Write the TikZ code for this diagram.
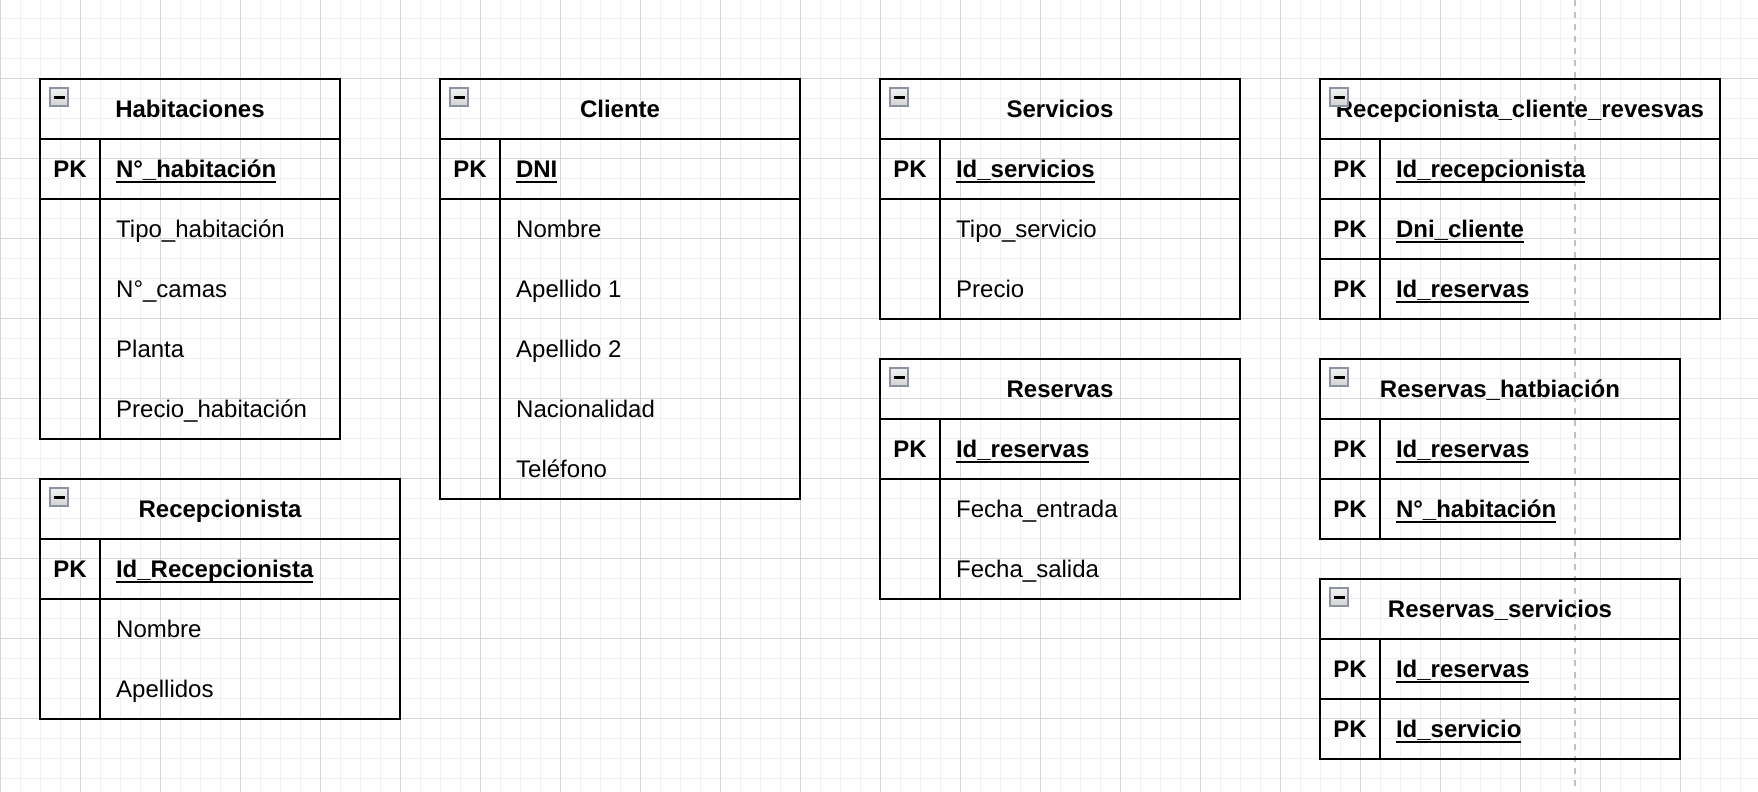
\documentclass[tikz,border=0pt]{standalone}
\usepackage{fontspec}
\setmainfont{Liberation Sans}
\usetikzlibrary{positioning}
\definecolor{gridminor}{RGB}{240,240,240}
\definecolor{gridmajor}{RGB}{214,214,214}
\definecolor{pageline}{RGB}{192,192,192}
\definecolor{iconborder}{RGB}{140,146,160}
\newcommand{\tabfont}{\fontsize{24}{29}\selectfont}
\newcommand{\keyline}[1]{\setbox0=\hbox{#1}\rlap{\rule[-5.7pt]{\wd0}{2pt}}\box0}

\begin{document}
\begin{tikzpicture}[
    x=1pt, y=-1pt,
    cell/.style={draw, line width=2pt, inner sep=0pt, outer sep=0pt, anchor=north west, text height=21.7pt, text depth=5.1pt},
    tabhead/.style={cell, minimum height=60pt, font=\tabfont\bfseries},
    pkcell/.style={cell, minimum width=60pt, minimum height=60pt, font=\tabfont\bfseries},
    keycell/.style={cell, minimum height=60pt, inner xsep=16pt, align=left, font=\tabfont\bfseries},
    sidecol/.style={cell, minimum width=60pt},
    bodybox/.style={cell},
    field/.style={anchor=west, inner sep=0pt, font=\tabfont, text height=21.7pt, text depth=5.1pt},
    collapse/.style={draw=iconborder, line width=1.5pt, top color=gray!10, bottom color=gray!35, minimum size=18pt, inner sep=0pt},
    gridline/.style={gridminor, line width=1pt},
    majorline/.style={gridmajor, line width=1pt},
    pagebreak/.style={pageline, line width=2pt, dash pattern=on 6pt off 6pt}
]
\useasboundingbox (0,0) rectangle (1758,792);
\fill[white] (0,0) rectangle (1758,792);

% grid
\foreach \gx in {0,20,...,1740} \draw[gridline] (\gx,0) -- (\gx,792);
\foreach \gy in {18.5,38.5,...,778.5} \draw[gridline] (0,\gy) -- (1758,\gy);
\foreach \gx in {0,80,...,1680} \draw[majorline] (\gx,0) -- (\gx,792);
\foreach \gy in {78.5,158.5,...,718.5} \draw[majorline] (0,\gy) -- (1758,\gy);
\draw[pagebreak] (1575,0) -- (1575,792);

% Habitaciones
\node[tabhead, minimum width=300pt] (hab) at (40,79) {Habitaciones};
\node[collapse] (habicon) at ([xshift=19pt, yshift=-18pt]hab.north west) {\rule{11pt}{3pt}};
\node[pkcell] (habpk) at (hab.south west) {PK};
\node[keycell, text width=208pt] (habkey) at (habpk.north east) {\keyline{N°\_habitación}};
\node[sidecol, minimum height=240pt] (habside) at (habpk.south west) {};
\node[bodybox, minimum width=240pt, minimum height=240pt] (habbody) at (habside.north east) {};
\foreach \lbl [count=\i] in {Tipo\_habitación, N°\_camas, Planta, Precio\_habitación}
    \node[field] (habf\i) at ([xshift=16pt, yshift={30pt-60pt*\i}]habbody.north west) {\lbl};

% Recepcionista
\node[tabhead, minimum width=360pt] (rec) at (40,479) {Recepcionista};
\node[collapse] (recicon) at ([xshift=19pt, yshift=-18pt]rec.north west) {\rule{11pt}{3pt}};
\node[pkcell] (recpk) at (rec.south west) {PK};
\node[keycell, text width=268pt] (reckey) at (recpk.north east) {\keyline{Id\_Recepcionista}};
\node[sidecol, minimum height=120pt] (recside) at (recpk.south west) {};
\node[bodybox, minimum width=300pt, minimum height=120pt] (recbody) at (recside.north east) {};
\foreach \lbl [count=\i] in {Nombre, Apellidos}
    \node[field] (recf\i) at ([xshift=16pt, yshift={30pt-60pt*\i}]recbody.north west) {\lbl};

% Cliente
\node[tabhead, minimum width=360pt] (cli) at (440,79) {Cliente};
\node[collapse] (cliicon) at ([xshift=19pt, yshift=-18pt]cli.north west) {\rule{11pt}{3pt}};
\node[pkcell] (clipk) at (cli.south west) {PK};
\node[keycell, text width=268pt] (clikey) at (clipk.north east) {\keyline{DNI}};
\node[sidecol, minimum height=300pt] (cliside) at (clipk.south west) {};
\node[bodybox, minimum width=300pt, minimum height=300pt] (clibody) at (cliside.north east) {};
\foreach \lbl [count=\i] in {Nombre, Apellido 1, Apellido 2, Nacionalidad, Teléfono}
    \node[field] (clif\i) at ([xshift=16pt, yshift={30pt-60pt*\i}]clibody.north west) {\lbl};

% Servicios
\node[tabhead, minimum width=360pt] (ser) at (880,79) {Servicios};
\node[collapse] (sericon) at ([xshift=19pt, yshift=-18pt]ser.north west) {\rule{11pt}{3pt}};
\node[pkcell] (serpk) at (ser.south west) {PK};
\node[keycell, text width=268pt] (serkey) at (serpk.north east) {\keyline{Id\_servicios}};
\node[sidecol, minimum height=120pt] (serside) at (serpk.south west) {};
\node[bodybox, minimum width=300pt, minimum height=120pt] (serbody) at (serside.north east) {};
\foreach \lbl [count=\i] in {Tipo\_servicio, Precio}
    \node[field] (serf\i) at ([xshift=16pt, yshift={30pt-60pt*\i}]serbody.north west) {\lbl};

% Reservas
\node[tabhead, minimum width=360pt] (res) at (880,359) {Reservas};
\node[collapse] (resicon) at ([xshift=19pt, yshift=-18pt]res.north west) {\rule{11pt}{3pt}};
\node[pkcell] (respk) at (res.south west) {PK};
\node[keycell, text width=268pt] (reskey) at (respk.north east) {\keyline{Id\_reservas}};
\node[sidecol, minimum height=120pt] (resside) at (respk.south west) {};
\node[bodybox, minimum width=300pt, minimum height=120pt] (resbody) at (resside.north east) {};
\foreach \lbl [count=\i] in {Fecha\_entrada, Fecha\_salida}
    \node[field] (resf\i) at ([xshift=16pt, yshift={30pt-60pt*\i}]resbody.north west) {\lbl};

% Recepcionista_cliente_revesvas
\node[tabhead, minimum width=400pt] (rcr) at (1320,79) {Recepcionista\_cliente\_revesvas};
\node[collapse] (rcricon) at ([xshift=19pt, yshift=-18pt]rcr.north west) {\rule{11pt}{3pt}};
\node[pkcell] (rcrpk1) at (rcr.south west) {PK};
\node[keycell, text width=308pt] (rcrkey1) at (rcrpk1.north east) {\keyline{Id\_recepcionista}};
\node[pkcell] (rcrpk2) at (rcrpk1.south west) {PK};
\node[keycell, text width=308pt] (rcrkey2) at (rcrpk2.north east) {\keyline{Dni\_cliente}};
\node[pkcell] (rcrpk3) at (rcrpk2.south west) {PK};
\node[keycell, text width=308pt] (rcrkey3) at (rcrpk3.north east) {\keyline{Id\_reservas}};

% Reservas_hatbiación
\node[tabhead, minimum width=360pt] (rha) at (1320,359) {Reservas\_hatbiación};
\node[collapse] (rhaicon) at ([xshift=19pt, yshift=-18pt]rha.north west) {\rule{11pt}{3pt}};
\node[pkcell] (rhapk1) at (rha.south west) {PK};
\node[keycell, text width=268pt] (rhakey1) at (rhapk1.north east) {\keyline{Id\_reservas}};
\node[pkcell] (rhapk2) at (rhapk1.south west) {PK};
\node[keycell, text width=268pt] (rhakey2) at (rhapk2.north east) {\keyline{N°\_habitación}};

% Reservas_servicios
\node[tabhead, minimum width=360pt] (rse) at (1320,579) {Reservas\_servicios};
\node[collapse] (rseicon) at ([xshift=19pt, yshift=-18pt]rse.north west) {\rule{11pt}{3pt}};
\node[pkcell] (rsepk1) at (rse.south west) {PK};
\node[keycell, text width=268pt] (rsekey1) at (rsepk1.north east) {\keyline{Id\_reservas}};
\node[pkcell] (rsepk2) at (rsepk1.south west) {PK};
\node[keycell, text width=268pt] (rsekey2) at (rsepk2.north east) {\keyline{Id\_servicio}};
\end{tikzpicture}
\end{document}
